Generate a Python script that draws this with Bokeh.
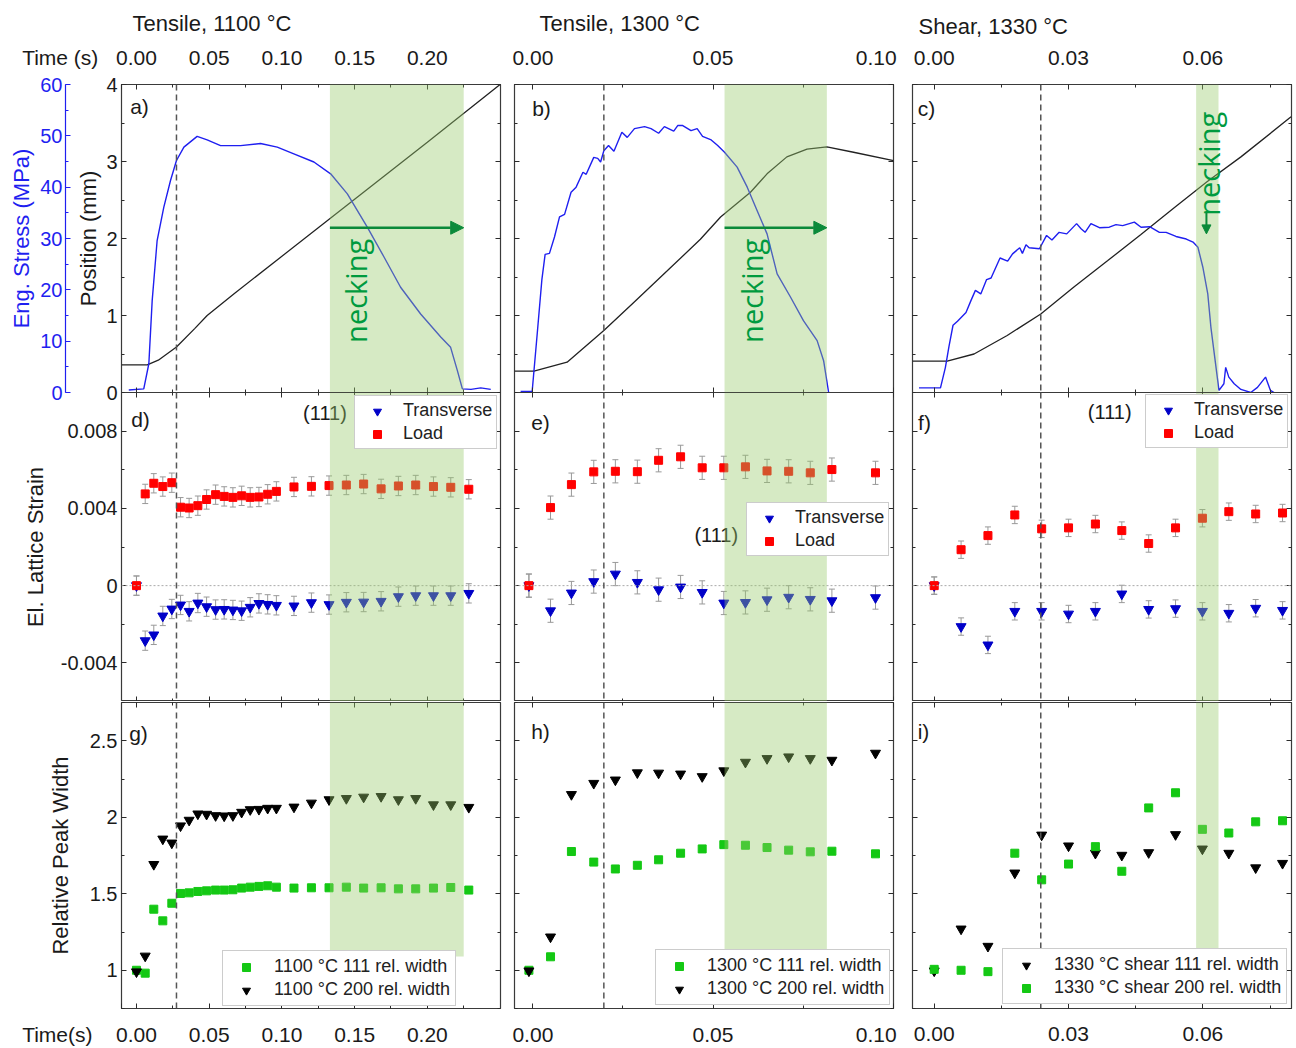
from bokeh.plotting import figure
from bokeh.models import (Range1d, LinearAxis, FixedTicker, SingleIntervalTicker,
                          CustomJSTickFormatter, BoxAnnotation, Span,
                          Label, Arrow, NormalHead, Whisker, TeeHead, ColumnDataSource, Title)
from bokeh.layouts import row, column
from bokeh.embed import file_html
from bokeh.resources import INLINE

# ---------------- data ----------------
COL_TITLES = ["Tensile, 1100 °C", "Tensile, 1300 °C", "Shear, 1330 °C"]
X_RANGES = [(-0.0103, 0.2503), (-0.0051, 0.1001), (-0.00485, 0.0798)]
X_TICKS = [[0.0, 0.05, 0.10, 0.15, 0.20], [0.0, 0.05, 0.10], [0.0, 0.03, 0.06]]
X_MINOR = [[0.025, 0.075, 0.125, 0.175, 0.225], [0.025, 0.075], [0.015, 0.045, 0.075]]
TIME_LABEL_TOP = "Time (s)"
TIME_LABEL_BOTTOM = "Time(s)"
DASH_T = [0.0275, 0.0197, 0.0238]
NECK_START = [0.133, 0.0532, 0.0585]
NECK_END = [0.225, 0.0816, 0.0635]
PANEL_LETTERS = [["a)", "b)", "c)"], ["d)", "e)", "f)"], ["g)", "h)", "i)"]]

# a) 1100 C tensile
a_pos_t = [-0.0103, 0.0074, 0.015, 0.0275, 0.040, 0.0486, 0.0669, 0.10, 0.15, 0.20, 0.25]
a_pos = [0.36, 0.36, 0.42, 0.59, 0.83, 1.00, 1.28, 1.77, 2.51, 3.25, 4.0]
a_stress_t = [-0.0053, 0.0050, 0.0085, 0.0108, 0.0142, 0.0188, 0.0234, 0.0275, 0.0326, 0.0417,
              0.0486, 0.0578, 0.0716, 0.0853, 0.0968, 0.1082, 0.1220, 0.1335, 0.1450, 0.1587,
              0.1702, 0.1816, 0.1954, 0.2092, 0.2160, 0.2206, 0.2241, 0.2300, 0.2367, 0.2436]
a_stress = [0.5, 0.7, 5.6, 17.9, 29.6, 36.1, 41.3, 45.2, 47.8, 49.9,
            49.2, 48.1, 48.1, 48.5, 47.8, 46.5, 44.9, 42.6, 38.7, 32.2,
            26.4, 20.5, 15.3, 10.8, 8.8, 4.3, 0.7, 0.6, 0.9, 0.6]

# b) 1300 C tensile
b_pos_t = [-0.0051, 0.0003, 0.0095, 0.0197, 0.0280, 0.0373, 0.0465, 0.0521, 0.0604, 0.0650,
           0.0705, 0.0761, 0.0816, 0.0890, 0.1001]
b_pos = [0.277, 0.277, 0.394, 0.805, 1.17, 1.58, 1.99, 2.28, 2.60, 2.84,
         3.06, 3.16, 3.19, 3.12, 3.01]
b_stress_t = [-0.0034, -0.0002, 0.0012, 0.0025, 0.0034, 0.0046, 0.0060, 0.0074, 0.0088, 0.0106,
              0.0120, 0.0139, 0.0148, 0.0169, 0.0180, 0.0188, 0.0197, 0.0210, 0.0225, 0.0247,
              0.0262, 0.0282, 0.0310, 0.0328, 0.0349, 0.0365, 0.0391, 0.0402, 0.0416, 0.0439,
              0.0456, 0.0471, 0.0495, 0.0513, 0.0532, 0.0567, 0.0595, 0.0622, 0.0650, 0.0678,
              0.0715, 0.0751, 0.0789, 0.0807, 0.0821]
b_stress = [0.2, 0.2, 11.4, 22.0, 26.9, 27.1, 30.3, 34.2, 34.7, 39.0,
            40.0, 42.9, 42.5, 45.8, 45.6, 44.9, 47.1, 48.1, 47.0, 50.7,
            49.7, 51.4, 51.8, 51.4, 50.5, 51.8, 50.9, 52.0, 52.0, 51.0,
            51.4, 49.9, 49.2, 48.1, 46.8, 43.9, 40.0, 35.5, 30.9, 23.1,
            18.6, 14.0, 10.1, 6.2, 0.0]

# c) 1330 C shear
c_pos_t = [-0.00485, 0.0029, 0.0089, 0.0163, 0.0238, 0.0312, 0.0387, 0.0461, 0.0536, 0.0610,
           0.0685, 0.0797]
c_pos = [0.407, 0.407, 0.50, 0.74, 1.02, 1.37, 1.71, 2.05, 2.40, 2.74, 3.06, 3.58]
c_stress_t = [-0.0034, 0.0014, 0.0025, 0.0033, 0.0042, 0.0052, 0.0071, 0.0082, 0.0092, 0.0104,
              0.0117, 0.0127, 0.0147, 0.0164, 0.0175, 0.0191, 0.0197, 0.0205, 0.0212, 0.0235,
              0.0251, 0.0263, 0.0279, 0.0296, 0.0318, 0.0328, 0.0337, 0.0350, 0.0369, 0.0391,
              0.0406, 0.0421, 0.0447, 0.0462, 0.0481, 0.0503, 0.0518, 0.0540, 0.0563, 0.0578,
              0.0589, 0.0600, 0.0611, 0.0618, 0.0636, 0.0647, 0.0651, 0.0658, 0.0670, 0.0685,
              0.0707, 0.0722, 0.0740, 0.0751, 0.0759]
c_stress = [0.9, 0.9, 4.9, 9.0, 13.1, 13.9, 15.6, 17.9, 19.9, 19.2,
            22.0, 22.3, 26.2, 25.6, 27.0, 28.2, 27.1, 28.8, 28.2, 28.0,
            30.6, 29.7, 31.2, 30.9, 32.9, 31.9, 31.2, 32.9, 32.1, 32.2,
            32.7, 32.5, 33.2, 32.2, 32.3, 31.2, 31.2, 30.4, 29.9, 29.3,
            28.3, 24.4, 19.2, 12.7, 0.4, 1.7, 4.9, 3.0, 1.7, 0.6,
            0.0, 1.0, 3.0, 0.4, 0.0]

# measurement times (diffraction frames)
t_1100 = [0.0, 0.0060, 0.0119, 0.0181, 0.0243, 0.0303, 0.0362, 0.0422, 0.0482, 0.0544,
          0.0603, 0.0663, 0.0723, 0.0782, 0.0842, 0.0902, 0.0962, 0.1083, 0.1203, 0.1324,
          0.1443, 0.1562, 0.1682, 0.1801, 0.1920, 0.2042, 0.2161, 0.2285]
t_1300 = [-0.0011, 0.0049, 0.0107, 0.0169, 0.0229, 0.0290, 0.0349, 0.0410, 0.0470, 0.0530,
          0.0590, 0.0650, 0.0710, 0.0770, 0.0830, 0.0951]
t_1330 = [0.0, 0.0060, 0.0120, 0.0180, 0.0240, 0.0300, 0.0360, 0.0419, 0.0479, 0.0539,
          0.0599, 0.0658, 0.0718, 0.0778]

# d-f) elastic lattice strain (111)
d_load = [0.0, 0.00475, 0.0053, 0.00513, 0.00533, 0.00406, 0.00402, 0.00414, 0.00446, 0.00471,
          0.00462, 0.00457, 0.00465, 0.00457, 0.00459, 0.00473, 0.00488, 0.00511, 0.00514, 0.00518,
          0.00521, 0.00526, 0.00501, 0.00516, 0.00521, 0.00513, 0.00509, 0.00499]
d_trans = [0.0, -0.00285, -0.00255, -0.00157, -0.00121, -0.00100, -0.00133, -0.00090, -0.00109, -0.00124,
           -0.00123, -0.00126, -0.00130, -0.00112, -0.00092, -0.00097, -0.00102, -0.00105, -0.00088, -0.00098,
           -0.00086, -0.00085, -0.00081, -0.00057, -0.00052, -0.00052, -0.00052, -0.00040]
e_load = [0.0, 0.00404, 0.00523, 0.00589, 0.00592, 0.00590, 0.00649, 0.00667, 0.00610, 0.00610,
          0.00615, 0.00594, 0.00592, 0.00584, 0.00601, 0.00584]
e_trans = [0.0, -0.00130, -0.00038, 0.00021, 0.00060, 0.00017, -0.00021, -0.00007, -0.00035, -0.00090,
           -0.00087, -0.00073, -0.00060, -0.00071, -0.00078, -0.00062]
f_load = [0.0, 0.00186, 0.00259, 0.00366, 0.00294, 0.00299, 0.00319, 0.00285, 0.00218, 0.00299,
          0.00349, 0.00383, 0.00371, 0.00376]
f_trans = [0.0, -0.00212, -0.00307, -0.00133, -0.00133, -0.00147, -0.00133, -0.00043, -0.00123, -0.00119,
           -0.00133, -0.00143, -0.00117, -0.00128]
STRAIN_ERR = [0.0005, 0.0006, 0.00045]

# g-i) relative peak width
g_111 = [1.0, 0.981, 1.399, 1.323, 1.438, 1.502, 1.506, 1.515, 1.519, 1.524,
         1.524, 1.526, 1.537, 1.543, 1.548, 1.552, 1.543, 1.537, 1.539, 1.539,
         1.543, 1.537, 1.539, 1.532, 1.532, 1.537, 1.541, 1.524]
g_200 = [0.99, 1.093, 1.692, 1.858, 1.832, 1.944, 1.981, 2.022, 2.020, 2.011,
         2.009, 2.011, 2.033, 2.050, 2.052, 2.059, 2.059, 2.067, 2.093, 2.115,
         2.123, 2.132, 2.136, 2.115, 2.123, 2.082, 2.082, 2.065]
h_111 = [1.0, 1.088, 1.776, 1.707, 1.662, 1.686, 1.722, 1.765, 1.793, 1.821,
         1.817, 1.802, 1.785, 1.774, 1.778, 1.761]
h_200 = [0.996, 1.218, 2.149, 2.222, 2.244, 2.291, 2.289, 2.283, 2.266, 2.304,
         2.360, 2.384, 2.395, 2.384, 2.373, 2.419]
i_111 = [0.996, 1.270, 1.157, 1.636, 1.884, 1.813, 1.765, 1.752, 1.769, 1.887,
         1.793, 1.765, 1.670, 1.699]
i_200 = [1.006, 1.0, 0.991, 1.765, 1.591, 1.694, 1.808, 1.647, 2.061, 2.160,
         1.921, 1.897, 1.970, 1.977]

# ---------------- style ----------------
FONT = "Liberation Sans"
NECK_FONT = "Open Sans"
STRESS_BLUE = "#1f1ff0"
BAND = "#98CA6B"
NECK_GREEN = "#009a3e"
ARROW_GREEN = "#0b8a3a"
AX = "#2b2b2b"
TXT = "#1a1a1a"

LEFT_B = [121, 7, 10]
RIGHT_B = [7, 9, 5]
FRAME_W = [379, 379, 379]
TOP_B = [84, 0, 1]
BOT_B = [12, 0, 38]
FRAME_H = [308, 309, 308]
Y_RANGES = [(0, 4), (-0.006, 0.010), (0.75, 2.75)]
TOP_STANDOFF = [16, 16, 20]
BOT_STANDOFF = [14, 14, 18]
TITLE_STANDOFF = [13, 13, 18]


def base_fig(ci, ri):
    p = figure(width=LEFT_B[ci] + FRAME_W[ci] + RIGHT_B[ci],
               height=TOP_B[ri] + FRAME_H[ri] + BOT_B[ri],
               x_range=Range1d(*X_RANGES[ci]), y_range=Range1d(*Y_RANGES[ri]),
               output_backend="svg", toolbar_location=None,
               x_axis_location=None, y_axis_location=None,
               min_border_left=LEFT_B[ci], min_border_right=RIGHT_B[ci],
               min_border_top=TOP_B[ri], min_border_bottom=BOT_B[ri])
    p.outline_line_color = "#3a3a3a"
    p.outline_line_width = 1.2
    p.grid.visible = False
    p.background_fill_color = "white"
    p.border_fill_color = "white" if ri == 0 else None
    return p


def style_axis(ax, show, size="20px", standoff=0, color=AX):
    ax.major_tick_in = 5
    ax.major_tick_out = 0
    ax.minor_tick_in = 3
    ax.minor_tick_out = 0
    ax.major_tick_line_color = color
    ax.minor_tick_line_color = color
    ax.axis_line_color = None
    ax.major_label_text_font = FONT
    ax.major_label_text_color = TXT
    ax.axis_label_text_font = FONT
    ax.axis_label_text_font_style = "normal"
    ax.axis_label_text_font_size = "22px"
    ax.axis_label_text_color = TXT
    if show:
        ax.major_label_text_font_size = size
        ax.major_label_standoff = standoff
    else:
        ax.major_label_text_font_size = "0px"
        ax.major_label_standoff = 0


def x_formatter(ci, name):
    # the "Time" caption sits on the first (frame-edge) tick of the first column;
    # trailing no-break spaces shift a centred label to the left
    code = ("if (tick < -0.005) return NAME + '\\u00a0'.repeat(PAD);"
            "if (LAST && tick > 0.099) return '0.10\\u00a0';"
            "return tick.toFixed(2);")
    pad = 21 if name == TIME_LABEL_TOP else 22
    code = code.replace("NAME", repr(name)).replace("PAD", str(pad))
    code = code.replace("LAST", "true" if ci == 1 else "false")
    return CustomJSTickFormatter(code=code)


def add_x_axes(p, ci, top_lab, bot_lab):
    for loc, lab, so, name in (("above", top_lab, TOP_STANDOFF[ci], TIME_LABEL_TOP),
                               ("below", bot_lab, BOT_STANDOFF[ci], TIME_LABEL_BOTTOM)):
        ticks = list(X_TICKS[ci])
        if ci == 0 and lab:
            ticks = [X_RANGES[0][0]] + ticks
        ax = LinearAxis(ticker=FixedTicker(ticks=ticks, minor_ticks=X_MINOR[ci]),
                        formatter=x_formatter(ci, name))
        style_axis(ax, lab, "21px", so)
        p.add_layout(ax, loc)


def y_ticker(ri):
    if ri == 0:
        return SingleIntervalTicker(interval=1, num_minor_ticks=2)
    if ri == 1:
        return FixedTicker(ticks=[-0.004, 0.0, 0.004, 0.008],
                           minor_ticks=[-0.006, -0.002, 0.002, 0.006, 0.010])
    return FixedTicker(ticks=[1.0, 1.5, 2.0, 2.5], minor_ticks=[0.75, 1.25, 1.75, 2.25, 2.75])


def y_formatter(ri):
    if ri == 1:
        return CustomJSTickFormatter(code="return tick == 0 ? '0' : tick.toFixed(3);")
    return CustomJSTickFormatter(code="return String(tick);")


Y_LABELS = ["Position (mm)", "El. Lattice Strain", "Relative Peak Width"]
Y_LABEL_STANDOFF = [2, 10, 14]
LETTER_OFF = [[(18, 22), (27, 24), (14, 24)],
              [(19, 27), (26, 30), (12, 30)],
              [(17, 31), (26, 29), (11, 29)]]


def add_y_axes(p, ci, ri):
    left = LinearAxis(ticker=y_ticker(ri), formatter=y_formatter(ri))
    style_axis(left, ci == 0, "20px", 4)
    if ci == 0:
        left.axis_label = Y_LABELS[ri]
        left.axis_label_standoff = Y_LABEL_STANDOFF[ri]
    p.add_layout(left, "left")
    right = LinearAxis(ticker=y_ticker(ri))
    style_axis(right, False)
    p.add_layout(right, "right")


def common(p, ci, ri):
    x0 = X_RANGES[ci][0]
    y1 = Y_RANGES[ri][1]
    dx, dy = LETTER_OFF[ri][ci]
    p.add_layout(Label(x=x0, y=y1, x_offset=dx, y_offset=-dy, text=PANEL_LETTERS[ri][ci],
                       text_align="center", text_baseline="middle", text_font=FONT,
                       text_font_size="21px", text_color=TXT))
    p.add_layout(Span(location=DASH_T[ci], dimension="height", line_color="#555555",
                      line_dash="6 4", line_width=1.5))


def band(p, ci, bottom=None):
    kw = dict(left=NECK_START[ci], right=NECK_END[ci], fill_color=BAND, fill_alpha=0.4,
              line_alpha=0, level="overlay")
    if bottom is not None:
        kw["bottom"] = bottom
    p.add_layout(BoxAnnotation(**kw))


def style_legend(lg, loc, pad, standoff):
    lg.location = loc
    lg.margin = 0
    lg.padding = pad
    lg.glyph_width = 36
    lg.glyph_height = 20
    lg.label_height = 20
    lg.label_standoff = standoff
    lg.spacing = 2
    lg.label_text_font = FONT
    lg.label_text_font_size = "18px"
    lg.label_text_color = "#222222"
    lg.border_line_color = "#999999"
    lg.border_line_width = 1
    lg.background_fill_color = "white"
    lg.background_fill_alpha = 1


# ---------------- top row ----------------
POS_T = [a_pos_t, b_pos_t, c_pos_t]
POS = [a_pos, b_pos, c_pos]
STR_T = [a_stress_t, b_stress_t, c_stress_t]
STR = [a_stress, b_stress, c_stress]

top_figs = []
for ci in range(3):
    p = base_fig(ci, 0)
    p.title = Title(text=COL_TITLES[ci], align="left", offset=[11, 25, 6][ci],
                    text_font=FONT, text_font_size="22px", text_font_style="normal",
                    text_color=TXT, standoff=TITLE_STANDOFF[ci])
    p.extra_y_ranges = {"stress": Range1d(0, 60)}
    add_x_axes(p, ci, True, False)
    add_y_axes(p, ci, 0)
    if ci == 0:
        # invisible spacer between the position axis and the stress axis
        spacer = LinearAxis(y_range_name="stress", ticker=FixedTicker(ticks=[30], minor_ticks=[]))
        style_axis(spacer, False)
        spacer.major_tick_in = 0
        spacer.major_tick_out = 8
        spacer.major_tick_line_color = None
        spacer.minor_tick_line_color = None
        p.add_layout(spacer, "left")
        s_ax = LinearAxis(y_range_name="stress", ticker=SingleIntervalTicker(interval=10, num_minor_ticks=2))
        style_axis(s_ax, True, "20px", 3, color=STRESS_BLUE)
        s_ax.axis_line_color = STRESS_BLUE
        s_ax.axis_line_width = 1.2
        s_ax.major_label_text_color = STRESS_BLUE
        s_ax.axis_label = "Eng. Stress (MPa)"
        s_ax.axis_label_text_color = STRESS_BLUE
        s_ax.axis_label_standoff = 3
        p.add_layout(s_ax, "left")
    p.line(POS_T[ci], POS[ci], line_color="#222222", line_width=1.3)
    p.line(STR_T[ci], STR[ci], line_color=STRESS_BLUE, line_width=1.4, y_range_name="stress")
    common(p, ci, 0)
    band(p, ci)
    if ci < 2:
        p.add_layout(Label(x=[0.1506, 0.0606][ci], y=1.32, text="necking", angle=90, angle_units="deg",
                           text_align="center", text_baseline="middle", text_font=NECK_FONT,
                           text_font_size="29px", text_color=NECK_GREEN, level="overlay"))
        p.add_layout(Arrow(x_start=NECK_START[ci], y_start=2.14, x_end=NECK_END[ci], y_end=2.14,
                           line_color=ARROW_GREEN, line_width=2.5, level="overlay",
                           end=NormalHead(size=13, fill_color=ARROW_GREEN, line_color=ARROW_GREEN)))
    else:
        p.add_layout(Label(x=0.0613, y=2.97, text="necking", angle=90, angle_units="deg",
                           text_align="center", text_baseline="middle", text_font=NECK_FONT,
                           text_font_size="29px", text_color=NECK_GREEN, level="overlay"))
        p.add_layout(Arrow(x_start=0.0608, y_start=2.33, x_end=0.0608, y_end=2.06,
                           line_color=ARROW_GREEN, line_width=2, level="overlay",
                           end=NormalHead(size=9, fill_color=ARROW_GREEN, line_color=ARROW_GREEN)))
    top_figs.append(p)

# ---------------- middle row ----------------
MID_T = [t_1100, t_1300, t_1330]
LOAD = [d_load, e_load, f_load]
TRANS = [d_trans, e_trans, f_trans]
MID_LOC = [(233, 252), (232, 145), (233, 253)]
MID_111 = [(0.1296, 0.00896), (0.0509, 0.00264), (0.0392, 0.00898)]

mid_figs = []
for ci in range(3):
    p = base_fig(ci, 1)
    add_x_axes(p, ci, False, False)
    add_y_axes(p, ci, 1)
    p.add_layout(Span(location=0, dimension="width", line_color="#aaaaaa", line_dash="2 2", line_width=1))
    err = STRAIN_ERR[ci]
    for ys in (TRANS[ci], LOAD[ci]):
        src = ColumnDataSource(dict(t=MID_T[ci], lo=[v - err for v in ys], up=[v + err for v in ys]))
        p.add_layout(Whisker(source=src, base="t", lower="lo", upper="up", line_color="#999999",
                             line_width=1,
                             upper_head=TeeHead(size=6, line_color="#999999", line_width=1),
                             lower_head=TeeHead(size=6, line_color="#999999", line_width=1)))
    p.scatter(MID_T[ci], TRANS[ci], marker="inverted_triangle", size=10, color="#0000c8",
              legend_label="Transverse")
    p.scatter(MID_T[ci], LOAD[ci], marker="square", size=8, color="#ff0000", legend_label="Load")
    style_legend(p.legend[0], MID_LOC[ci], 4, 8)
    p.add_layout(Label(x=MID_111[ci][0], y=MID_111[ci][1], text="(111)", text_align="center",
                       text_baseline="middle", text_font=FONT, text_font_size="20px",
                       text_color=TXT))
    common(p, ci, 1)
    band(p, ci)
    mid_figs.append(p)

# ---------------- bottom row ----------------
BOT_T = [t_1100, t_1300, t_1330]
bot_series = [
    [(g_111, "square", 8, "#14c814", "1100 °C 111 rel. width"),
     (g_200, "inverted_triangle", 10, "#000000", "1100 °C 200 rel. width")],
    [(h_111, "square", 8, "#14c814", "1300 °C 111 rel. width"),
     (h_200, "inverted_triangle", 10, "#000000", "1300 °C 200 rel. width")],
    [(i_111, "inverted_triangle", 10, "#000000", "1330 °C shear 111 rel. width"),
     (i_200, "square", 8, "#14c814", "1330 °C shear 200 rel. width")],
]
BOT_LOC = [(101, 2), (141, 3), (90, 4)]

bot_figs = []
for ci in range(3):
    p = base_fig(ci, 2)
    add_x_axes(p, ci, False, True)
    add_y_axes(p, ci, 2)
    for ys, mk, sz, col, lab in bot_series[ci]:
        p.scatter(BOT_T[ci], ys, marker=mk, size=sz, color=col, legend_label=lab)
    style_legend(p.legend[0], BOT_LOC[ci], 5, 10)
    common(p, ci, 2)
    band(p, ci, bottom=1.09)
    bot_figs.append(p)

layout = column(row(*top_figs),
                row(*mid_figs, styles={"margin-top": "-12px"}),
                row(*bot_figs))
open("out.html", "w").write(file_html(layout, INLINE))
